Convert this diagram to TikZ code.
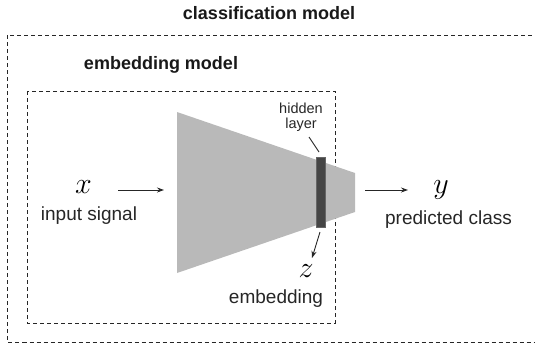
\documentclass[tikz,border=0pt]{standalone}
\usepackage{fix-cm}
\usepackage{fontspec}
\setmainfont{Liberation Sans}
\usetikzlibrary{positioning, arrows.meta}

\begin{document}
\begin{tikzpicture}[x=1pt, y=-1pt,
    box/.style={draw=black!85, dash pattern=on 4pt off 3pt, line width=0.9pt},
    arrow/.style={-{Stealth[length=7pt, width=5pt]}, line width=0.9pt, draw=black!85},
    title/.style={font=\fontsize{18}{18}\selectfont\bfseries, anchor=base, text=black!90, inner sep=0pt},
    caption/.style={font=\fontsize{19}{19}\selectfont, anchor=base, text=black!85, inner sep=0pt},
    var/.style={font=\fontsize{30}{30}\selectfont, anchor=base, inner sep=0pt}
]
    \useasboundingbox (0,0) rectangle (535,351);
    \clip (0,0) rectangle (535,351);

    % Dashed model boxes
    \draw[box] (7.5,35) rectangle (540,342);
    \draw[box] (27,91) rectangle (335,323);
    \node[title] (clsname) at (269,19) {classification model};
    \node[title] (embname) at (161,69) {embedding model};

    % Network body and hidden layer
    \fill[gray!55] (177,112) -- (355,173) -- (355,212) -- (177,273) -- cycle;
    \node[draw=black!60, fill=black!73, minimum width=9pt, minimum height=70pt, inner sep=0pt] (layer) at (320.5,192) {};
    \node[font=\fontsize{14.5}{15}\selectfont, align=center, text=black!85, inner sep=0pt] (hiddenlbl) at (301,117.5) {hidden\\layer};
    \coordinate (lblend) at (309,137);
    \coordinate (layertop) at (319,152);
    \draw[line width=0.9pt, black!85] (lblend) -- (layertop);

    % Input
    \node[var] (x) at (83.5,193) {$x$};
    \node[caption] (xname) at (89,220) {input signal};
    \coordinate (xout) at (118,190);
    \coordinate (netin) at (164,190);
    \draw[arrow] (xout) -- (netin);

    % Output
    \node[var] (y) at (441,193) {$y$};
    \node[caption] (yname) at (448.5,224) {predicted class};
    \coordinate (netout) at (365,190);
    \coordinate (yin) at (408,190);
    \draw[arrow] (netout) -- (yin);

    % Embedding
    \node[var] (z) at (306,277) {$z$};
    \node[caption] (zname) at (276,303) {embedding};
    \coordinate (layerbot) at (320,232);
    \coordinate (zin) at (312,258);
    \draw[arrow] (layerbot) -- (zin);
\end{tikzpicture}
\end{document}
